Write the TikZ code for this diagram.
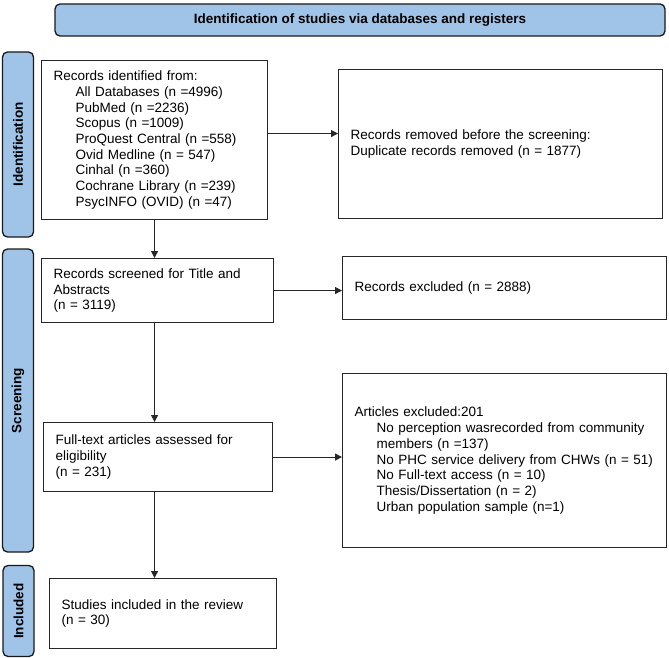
\documentclass[tikz,border=0pt]{standalone}
\usepackage{fontspec}
\setmainfont{Liberation Sans}
\usetikzlibrary{arrows.meta,positioning}

\definecolor{phaseblue}{RGB}{160,196,232}

\tikzset{
    stagebox/.style={draw=black!85, line width=1.1pt, anchor=north west,
        inner xsep=12pt, inner ysep=0pt, align=left,
        font=\fontsize{13.5}{15.7}\selectfont},
    phasebar/.style={draw=black!90, fill=phaseblue, line width=1.3pt,
        rounded corners=5pt, inner sep=0pt,
        font=\bfseries\fontsize{13.5}{16}\selectfont},
    flow/.style={draw=black!85, line width=0.8pt,
        -{Triangle[length=7pt,width=7pt]}}
}

\begin{document}
\begin{tikzpicture}[x=1pt, y=-1pt]
        \newcommand{\listindent}{\hspace*{22pt}}

        \useasboundingbox (0, 0) rectangle (669, 658);

        % phase headers
        \node [phasebar, minimum width=610pt, minimum height=32pt] (title) at (360, 20)
            {Identification of studies via databases and registers};
        \node [phasebar, rotate=90, minimum width=185pt, minimum height=31pt] (idbar) at (18, 144.5)
            {Identification};
        \node [phasebar, rotate=90, minimum width=303pt, minimum height=31pt] (screenbar) at (18, 400.5)
            {Screening};
        \node [phasebar, rotate=90, minimum width=91pt, minimum height=31pt] (inclbar) at (18.5, 611)
            {Included};

        % identification
        \node [stagebox, text width=202pt, minimum height=159pt] (records) at (41, 60)
            {Records identified from:\\
            \listindent All Databases (n =4996)\\
            \listindent PubMed (n =2236)\\
            \listindent Scopus (n =1009)\\
            \listindent ProQuest Central (n =558)\\
            \listindent Ovid Medline (n = 547)\\
            \listindent Cinhal (n =360)\\
            \listindent Cochrane Library (n =239)\\
            \listindent PsycINFO (OVID) (n =47)};
        \node [stagebox, text width=300pt, minimum height=149pt] (removed) at (338, 69)
            {Records removed before the screening:\\
            Duplicate records removed (n = 1877)};

        % screening
        \node [stagebox, text width=208pt, minimum height=64pt] (screened) at (41, 258)
            {Records screened for Title and\\ Abstracts\\ (n = 3119)};
        \node [stagebox, text width=300pt, minimum height=63pt] (excluded) at (342, 256)
            {Records excluded (n = 2888)};
        \node [stagebox, text width=205pt, minimum height=69pt] (fulltext) at (43, 422)
            {Full-text articles assessed for\\ eligibility\\ (n = 231)};
        \node [stagebox, text width=300pt, minimum height=174pt] (articles) at (342, 373)
            {Articles excluded:201\\
            \listindent No perception wasrecorded from community\\
            \listindent members (n =137)\\
            \listindent No PHC service delivery from CHWs (n = 51)\\
            \listindent No Full-text access (n = 10)\\
            \listindent Thesis/Dissertation (n = 2)\\
            \listindent Urban population sample (n=1)};

        % included
        \node [stagebox, text width=203pt, minimum height=70pt] (studies) at (49, 578)
            {Studies included in the review\\ (n = 30)};

        % connectors
        \draw [flow] ([yshift=6.5pt]records.east) -- ([yshift=6.5pt]records.east -| removed.west);
        \draw [flow] (records.south) -- (records.south |- screened.north);
        \draw [flow] (screened.east) -- (screened.east -| excluded.west);
        \draw [flow] (screened.south -| records.south) -- (fulltext.north -| records.south);
        \draw [flow] (fulltext.east) -- (fulltext.east -| articles.west);
        \draw [flow] (fulltext.south -| records.south) -- (studies.north -| records.south);

    \end{tikzpicture}
\end{document}
